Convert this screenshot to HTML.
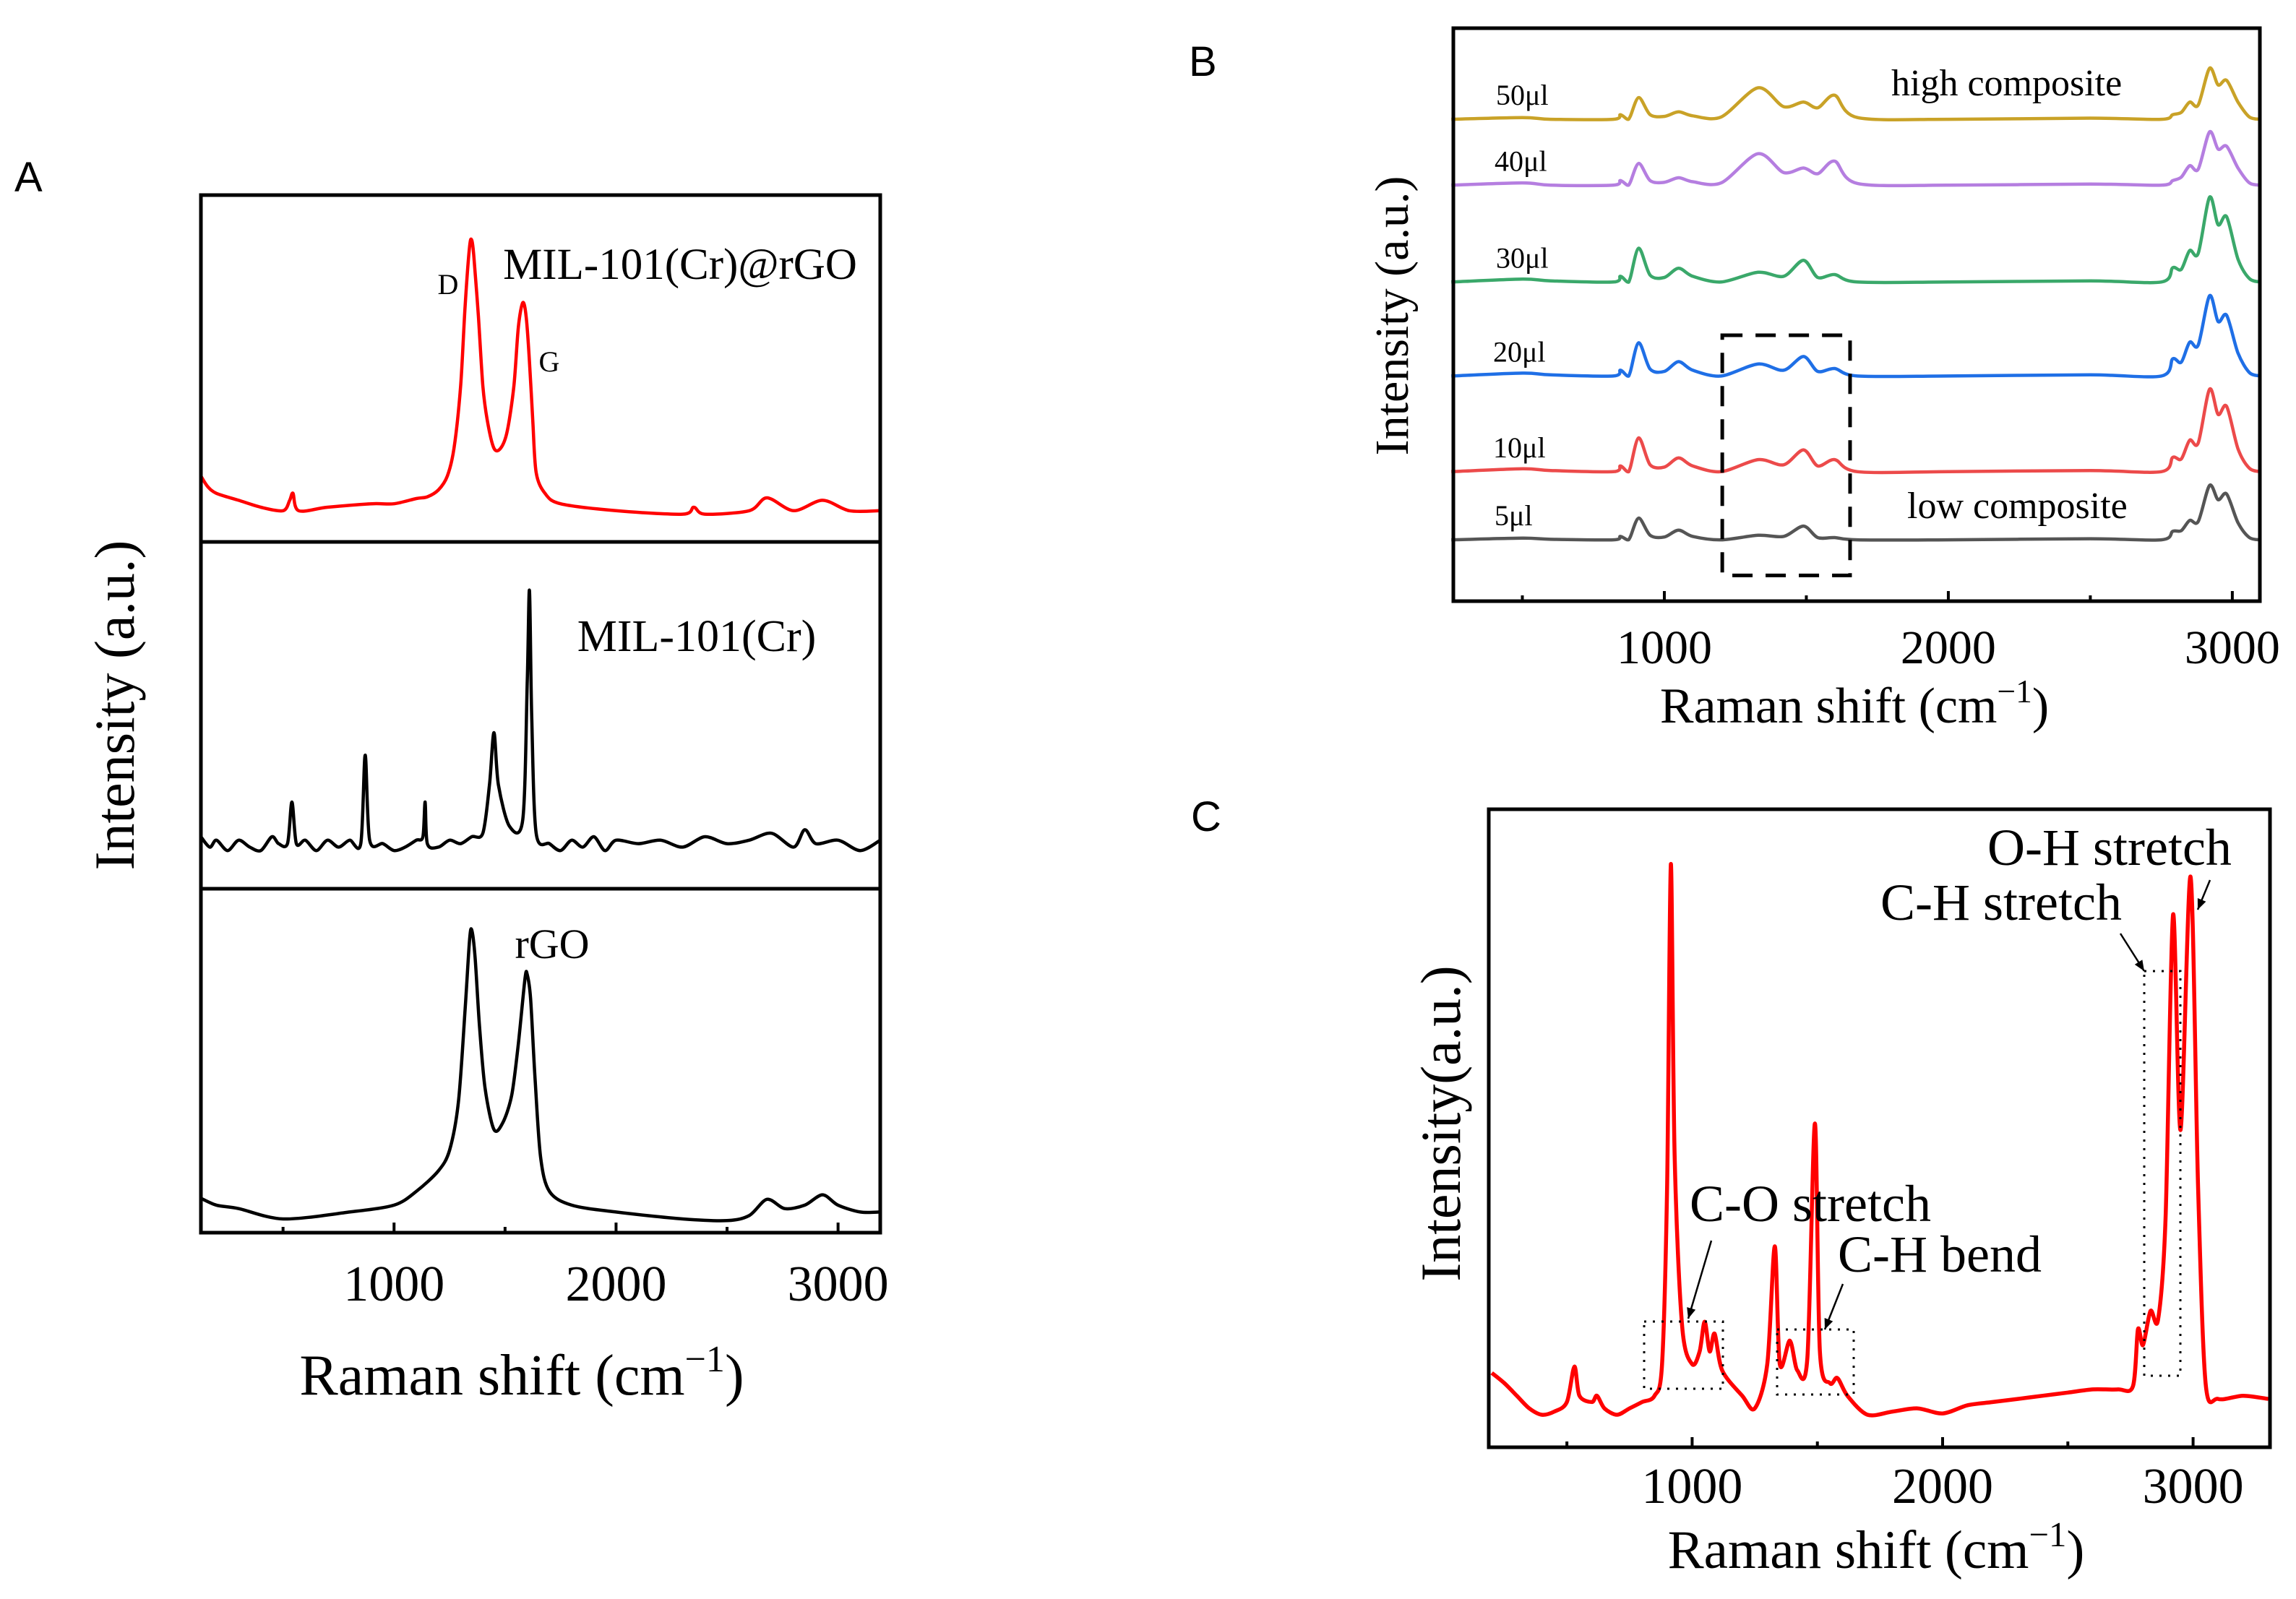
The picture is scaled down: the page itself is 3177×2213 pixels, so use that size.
<!DOCTYPE html>
<html><head><meta charset="utf-8"><style>
html,body{margin:0;padding:0;background:#fff;}
svg{display:block;font-family:"Liberation Serif",serif;}
.lt{font-family:"Liberation Sans",sans-serif;font-size:58px;}
</style></head><body>
<svg id="fig" width="3177" height="2213" viewBox="0 0 3177 2213" xmlns="http://www.w3.org/2000/svg">
<rect width="3177" height="2213" fill="#fff"/>
<text class="lt" x="20" y="265">A</text>
<text class="lt" x="1645" y="105">B</text>
<text class="lt" x="1648" y="1150">C</text>
<g id="gA"></g>
<g id="gB"></g>
<g id="gC"></g>
</svg>
<script>
// ---------- Panel A data ----------
const aRedX=[130,160,200,300,400,500,530,545,570,700,900,1000,1100,1150,1200,1240,1270,1300,1320,1340,1350,1360,1380,1400,1420,1450,1480,1510,1540,1560,1580,1595,1610,1625,1640,1680,1750,2000,2300,2350,2400,2600,2680,2800,2930,3050,3190];
const aRedY=[19,16,14,12,10,9,12,14,9,10,11,11,12.5,13,15,19,27,45,68,85,87,82,65,45,35,27,27,32,45,62,69,65,52,35,20,14,11,9,8,10,8,9,12.7,9,12,9,9];
const aMilX=[130,170,200,250,300,350,400,450,480,520,540,560,600,650,700,750,800,850,870,890,950,1000,1050,1100,1130,1140,1150,1200,1250,1300,1350,1400,1430,1450,1470,1520,1580,1600,1610,1620,1640,1700,1750,1800,1850,1900,1950,2000,2100,2200,2300,2400,2500,2600,2700,2800,2850,2900,3000,3100,3190];
const aMilY=[15,12,14,11,14,12,11,15,13,13,25,13,14,11,14,12,14,13,38.5,14,13,11,12,14,15,25,13,12,14,13,15,16,30,45,30,18,20,60,86,50,16,13,11,14,12,15,11,14,13,14,12,15,13,14,16,12,17,13,14,11,14];
const aRgoX=[130,200,300,500,800,1000,1100,1200,1250,1290,1320,1340,1350,1365,1385,1410,1450,1490,1530,1560,1590,1600,1615,1635,1660,1700,1800,2000,2300,2500,2600,2680,2760,2850,2930,3000,3100,3190];
const aRgoY=[10,8,7,4,6,8,12,18,24,38,65,85,88,80,60,42,30,32,40,55,74,75,68,45,22,12,8,6,4,3.5,5,9.7,7,8,11,8,6,6];
const aTicks=[1000,2000,3000];
// ---------- Panel B data ----------
const bX=[250,500,600,820,845,870,880,910,950,1000,1050,1100,1200,1330,1420,1490,1540,1600,1680,2000,2500,2750,2790,2820,2850,2880,2920,2950,2980,3020,3060,3100];
const b50=[0,.3,0,0,.8,0,.5,3.8,.8,.5,1.3,.6,.4,5.5,2.2,3,2,4.2,.3,0,.2,0,.8,1.2,3,2.5,8.9,6,6.8,3,.4,0];
const b40=[0,.4,0,0,.8,0,.5,3.8,.8,.5,1.3,.6,.4,5.5,2.2,3,2,4.2,.3,0,.2,0,.8,1.4,3.4,2.8,9.3,6.3,6.8,3,.4,0];
const b30=[0,.5,.2,0,1,0,.7,5.9,1.2,.8,2.4,1,0,1.7,1,3.8,.8,1.3,0,0,.2,0,2.5,2.2,5.5,5,14.8,10,11.4,4,.6,0];
const b20=[0,.5,.2,0,1,0,.7,5.8,1.2,.8,2.5,1,0,2.1,1,3.4,.8,1.3,0,0,.2,0,3,2.4,5.9,5.4,14,9.5,10.6,4,.6,0];
const b10=[0,.5,.2,0,1,0,.7,5.9,1.2,.8,2.4,1,0,2.1,1.2,3.8,1,2.1,0,0,.2,0,2.5,2.2,5.5,5,14.4,10,11.4,4,.6,0];
const b5=[0,.3,.1,0,.6,0,.5,3.8,.8,.5,1.7,.6,0,.8,.6,2.4,.4,.4,0,0,.2,0,1.5,1.6,3.4,3.2,9.5,7,8,3,.4,0];
const bOffsets=[84.1,72.6,55.7,39.3,22.6,10.7];
const bLabels=["50μl","40μl","30μl","20μl","10μl","5μl"];
const bTicks=[1000,2000,3000];
// ---------- Panel C data ----------
const cX=[200,250,300,350,400,450,500,530,550,600,620,650,700,750,800,850,880,900,915,930,960,1000,1030,1050,1070,1090,1120,1200,1250,1300,1330,1350,1390,1420,1460,1490,1510,1550,1580,1620,1700,1800,1900,2000,2100,2200,2300,2400,2500,2600,2700,2760,2780,2800,2830,2860,2890,2920,2950,2990,3020,3050,3100,3200,3300];
const cY=[10.6,9,7,5,4,4.5,6,11.6,7,6,7,5,4,5,6,7,12,40,91,45,18,12,14,18.7,14,16.8,11,7,5,12,30.6,12,15.7,11,13,50,14,9,9.8,7,4,4.5,5,4.2,5.5,6,6.5,7,7.5,8,8,8.5,17.5,15,20.4,19,35,83,49,89,40,9,6.5,7,6.5];
const cTicks=[1000,2000,3000];

const NS="http://www.w3.org/2000/svg";
function mk(parent,tag,attrs,txt){const e=document.createElementNS(NS,tag);for(const k in attrs)e.setAttribute(k,attrs[k]);if(txt!==undefined)e.textContent=txt;parent.appendChild(e);return e;}
function lin(d0,d1,r0,r1){return v=>r0+(v-d0)/(d1-d0)*(r1-r0);}
function line(g,xs,ys,fx,fy,color,w,name){
  const P=xs.map((x,i)=>[fx(x),fy(ys[i])]);
  let d="M"+P[0][0].toFixed(1)+","+P[0][1].toFixed(1);
  const t=0.15;
  for(let i=0;i<P.length-1;i++){
    const p0=P[i-1]||P[i],p1=P[i],p2=P[i+1],p3=P[i+2]||P[i+1];
    const c1=[p1[0]+(p2[0]-p0[0])*t,p1[1]+(p2[1]-p0[1])*t];
    const c2=[p2[0]-(p3[0]-p1[0])*t,p2[1]-(p3[1]-p1[1])*t];
    d+=` C${c1[0].toFixed(1)},${c1[1].toFixed(1)} ${c2[0].toFixed(1)},${c2[1].toFixed(1)} ${p2[0].toFixed(1)},${p2[1].toFixed(1)}`;
  }
  const p=mk(g,"path",{d:d,fill:"none",stroke:color,"stroke-width":w,"stroke-linejoin":"round"});
  
  
}
function frame(g,x0,y0,x1,y1,name){const r=mk(g,"rect",{x:x0,y:y0,width:x1-x0,height:y1-y0,fill:"none",stroke:"#000","stroke-width":5});
  
  }
function xaxis(g,fx,ticks,ybot,ylab,fs,dmin,dmax){
  for(let v=500;v<=dmax;v+=500){if(v<dmin)continue;const major=ticks.includes(v);
    const t=mk(g,"line",{x1:fx(v),x2:fx(v),y1:ybot,y2:ybot-(major?14:8),stroke:"#000","stroke-width":4});
    
    }
  ticks.forEach(v=>{const t=mk(g,"text",{x:fx(v),y:ylab,"font-size":fs,"text-anchor":"middle"},String(v));
    
    });
}
function xtitle(g,cx,y,fs,name){const t=mk(g,"text",{x:cx,y:y,"font-size":fs,"text-anchor":"middle"});
  
  
  t.appendChild(document.createTextNode("Raman shift (cm"));
  mk(t,"tspan",{dy:-fs*0.4,"font-size":fs*0.65},"−1");
  mk(t,"tspan",{dy:fs*0.4},")");}
function ytitle(g,x,cy,fs,txt,name){const t=mk(g,"text",{x:x,y:cy,"font-size":fs,"text-anchor":"middle",transform:`rotate(-90 ${x} ${cy})`},txt);
  
  }
function label(g,x,y,fs,txt,name,anchor){const t=mk(g,"text",{x:x,y:y,"font-size":fs,"text-anchor":anchor||"middle"},txt);
  
  }

// ---------- Panel A ----------
(function(){
  const g=document.getElementById("gA");
  const fx=lin(130,3190,278,1218);
  const sub=[[270,750],[750,1230],[1230,1706]];
  const fy=sub.map(s=>lin(0,100,s[1],s[0]));
  line(g,aRedX,aRedY,fx,fy[0],"#ff0000",4.5,"mil-rgo-spectrum");
  line(g,aMilX,aMilY,fx,fy[1],"#000",4.5,"mil-101-spectrum");
  line(g,aRgoX,aRgoY,fx,fy[2],"#000",4.5,"rgo-spectrum");
  frame(g,278,270,1218,1706,"panel-a-frame");
  [750,1230].forEach(y=>{const l=mk(g,"line",{x1:278,x2:1218,y1:y,y2:y,stroke:"#000","stroke-width":5});
    
    });
  xaxis(g,fx,aTicks,1706,1800,70,130,3190);
  xtitle(g,722,1930,80,"panel-a-x-title");
  ytitle(g,185,976,78,"Intensity (a.u.)","panel-a-y-title");
  label(g,941,386,61,"MIL-101(Cr)@rGO","label-mil-rgo");
  label(g,620,407,40,"D","label-d-band");
  label(g,760,514,40,"G","label-g-band");
  label(g,964,901,62,"MIL-101(Cr)","label-mil-101");
  label(g,764,1326,58,"rGO","label-rgo");
})();

// ---------- Panel B ----------
(function(){
  const g=document.getElementById("gB");
  const fx=lin(257,3097,2011,3127);
  const fy=lin(0,100,832,39);
  const cols=["#c9a227","#b57ee0","#3aa86a","#1f6fe6","#ec4a4a","#555555"];
  const series=[b50,b40,b30,b20,b10,b5];
  const lx=[2070,2068,2070,2066,2066,2068];
  series.forEach((s,i)=>{
    const ys=s.map(v=>v+bOffsets[i]);
    line(g,bX,ys,fx,fy,cols[i],4.5,"spectrum-"+bLabels[i].replace("μl","ul"));
    label(g,lx[i],fy(bOffsets[i])-20,40,bLabels[i],"series-label-"+bLabels[i].replace("μl","ul"),"start");
  });
  const bx0=fx(1204),bx1=fx(1654),by0=fy(46.4),by1=fy(4.5);
  const r=mk(g,"rect",{x:bx0,y:by0,width:bx1-bx0,height:by1-by0,fill:"none",stroke:"#000","stroke-width":5,"stroke-dasharray":"28,18"});
  
  
  frame(g,2011,39,3127,832,"panel-b-frame");
  xaxis(g,fx,bTicks,832,918,66,257,3097);
  xtitle(g,2566,1000,70,"panel-b-x-title");
  ytitle(g,1948,437,66,"Intensity (a.u.)","panel-b-y-title");
  label(g,2617,132,52,"high composite","label-high-composite","start");
  label(g,2639,717,52,"low composite","label-low-composite","start");
})();

// ---------- Panel C ----------
(function(){
  const g=document.getElementById("gC");
  const fx=lin(188,3307,2060,3141);
  const fy=lin(0,100,1993,1117);
  line(g,cX,cY,fx,fy,"#ff0000",5.5,"spectrum-c");
  const boxes=[[2275,1829,2384,1922,"c-o-box"],[2459,1840,2565,1930,"c-h-bend-box"],[2967,1344,3017,1904,"c-h-stretch-box"]];
  boxes.forEach(b=>{const r=mk(g,"rect",{x:b[0],y:b[1],width:b[2]-b[0],height:b[3]-b[1],fill:"none",stroke:"#000","stroke-width":3,"stroke-dasharray":"3,9"});
    
    });
  const arrows=[[2368,1717,2336,1825],[2550,1777,2525,1840],[2934,1292,2967,1344],[3058,1218,3041,1259]];
  arrows.forEach(a=>{const l=mk(g,"line",{x1:a[0],y1:a[1],x2:a[2],y2:a[3],stroke:"#000","stroke-width":2.5});
    
    
    const ang=Math.atan2(a[3]-a[1],a[2]-a[0]),L=16,w=0.4;
    const p=mk(g,"polygon",{points:`${a[2]},${a[3]} ${a[2]-L*Math.cos(ang-w)},${a[3]-L*Math.sin(ang-w)} ${a[2]-L*Math.cos(ang+w)},${a[3]-L*Math.sin(ang+w)}`,fill:"#000"});
    
    });
  frame(g,2060,1120,3141,2003,"panel-c-frame");
  xaxis(g,fx,cTicks,2003,2080,70,188,3307);
  xtitle(g,2596,2170,75,"panel-c-x-title");
  ytitle(g,2020,1555,78,"Intensity(a.u.)","panel-c-y-title");
  label(g,2919,1197,72,"O-H stretch","label-oh-stretch");
  label(g,2769,1273,72,"C-H stretch","label-ch-stretch");
  label(g,2505,1690,72,"C-O stretch","label-co-stretch");
  label(g,2684,1760,72,"C-H bend","label-ch-bend");
})();
</script>
</body></html>
